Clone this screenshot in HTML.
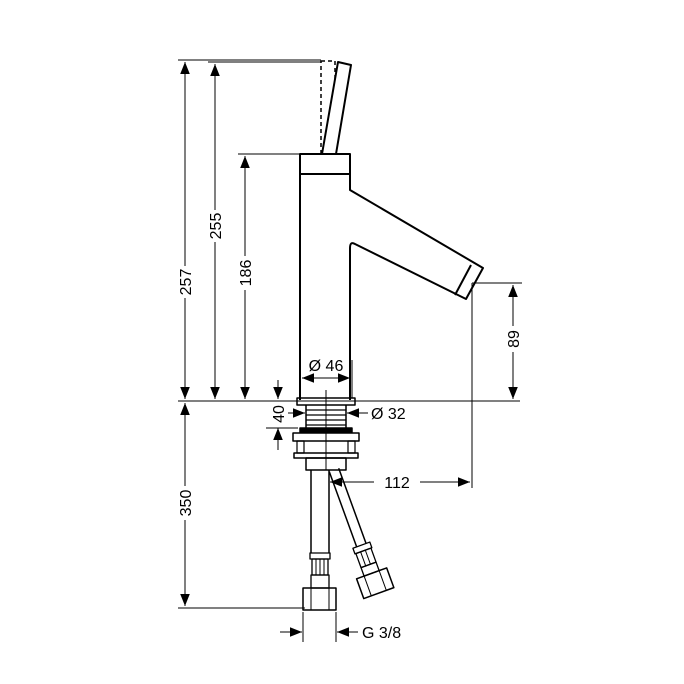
<!DOCTYPE html>
<html><head><style>body{margin:0;background:#fff}svg{display:block}text{font-family:"Liberation Sans",sans-serif;font-size:16px;fill:#000}</style></head><body>
<svg width="684" height="684" viewBox="0 0 684 684" xmlns="http://www.w3.org/2000/svg">
<defs><marker id="a" viewBox="0 0 10 10" refX="10" refY="5" markerWidth="12" markerHeight="12" orient="auto-start-reverse" markerUnits="userSpaceOnUse"><path d="M0,1 L10,5 L0,9 z" fill="#000"/></marker></defs>
<g stroke="#000" stroke-width="1" fill="none">
<line x1="178" y1="60" x2="321" y2="60"/>
<line x1="208" y1="62" x2="321" y2="62"/>
<line x1="238" y1="154" x2="300" y2="154"/>
<line x1="178" y1="401" x2="520" y2="401"/>
<line x1="178" y1="608" x2="305" y2="608"/>
<line x1="472" y1="283" x2="522" y2="283"/>
<line x1="472" y1="283" x2="472" y2="488"/>
<line x1="303" y1="612" x2="303" y2="642"/>
<line x1="336" y1="612" x2="336" y2="642"/>
<line x1="300" y1="360" x2="300" y2="398"/>
<line x1="352" y1="360" x2="352" y2="398"/>
<line x1="326" y1="390" x2="326" y2="470"/>
<line x1="185" y1="62" x2="185" y2="399" marker-start="url(#a)" marker-end="url(#a)"/>
<line x1="215" y1="64" x2="215" y2="399" marker-start="url(#a)" marker-end="url(#a)"/>
<line x1="245" y1="156" x2="245" y2="399" marker-start="url(#a)" marker-end="url(#a)"/>
<line x1="185" y1="403" x2="185" y2="606" marker-start="url(#a)" marker-end="url(#a)"/>
<line x1="513" y1="285" x2="513" y2="399" marker-start="url(#a)" marker-end="url(#a)"/>
<line x1="302" y1="378" x2="350" y2="378" marker-start="url(#a)" marker-end="url(#a)"/>
<line x1="330" y1="482" x2="470" y2="482" marker-start="url(#a)" marker-end="url(#a)"/>
<line x1="278" y1="380" x2="278" y2="399" marker-end="url(#a)"/>
<line x1="278" y1="450" x2="278" y2="428" marker-end="url(#a)"/>
<line x1="266" y1="428" x2="298" y2="428"/>
<line x1="288" y1="413" x2="305" y2="413" marker-end="url(#a)"/>
<line x1="368" y1="413" x2="347" y2="413" marker-end="url(#a)"/>
<line x1="280" y1="632" x2="302" y2="632" marker-end="url(#a)"/>
<line x1="358" y1="632" x2="337" y2="632" marker-end="url(#a)"/>
</g>
<g fill="#fff" stroke="none">
<rect x="177" y="266" width="16" height="32"/><rect x="207" y="210" width="16" height="32"/><rect x="237" y="256" width="16" height="34"/><rect x="177" y="486" width="16" height="34"/><rect x="505" y="326" width="16" height="26"/><rect x="374" y="474" width="46" height="16"/>
</g>
<g>
<text transform="translate(191,282) rotate(-90)" text-anchor="middle">257</text>
<text transform="translate(221,226) rotate(-90)" text-anchor="middle">255</text>
<text transform="translate(251,273) rotate(-90)" text-anchor="middle">186</text>
<text transform="translate(191,503) rotate(-90)" text-anchor="middle">350</text>
<text transform="translate(519,339) rotate(-90)" text-anchor="middle">89</text>
<text transform="translate(284,414) rotate(-90)" text-anchor="middle">40</text>
<text x="397" y="488" text-anchor="middle">112</text>
<text x="326" y="371" text-anchor="middle">Ø 46</text>
<text x="371" y="419">Ø 32</text>
<text x="362" y="638">G 3/8</text>
</g>
<g stroke="#000" stroke-width="2" fill="none" stroke-linejoin="round">
<rect x="321" y="61" width="14" height="92" stroke-dasharray="4,3" stroke-width="1.5"/>
<polygon points="338,62 351,65 336,154 322,154" fill="#fff"/>
<path d="M300,400 V154 H350 V190 L483,268 L466,299 L355,244 Q350,241 350,248 V400"/>
<line x1="300" y1="174" x2="350" y2="174"/>
<line x1="471" y1="265" x2="455" y2="295"/>
<rect x="297" y="398" width="58" height="7" stroke-width="1.5"/>
<path d="M306,405 V428 M346,405 V428" stroke-width="1.5"/>
<g stroke-width="1.2"><line x1="306" y1="410" x2="346" y2="410"/><line x1="306" y1="415" x2="346" y2="415"/><line x1="306" y1="420" x2="346" y2="420"/><line x1="306" y1="425" x2="346" y2="425"/></g>
<rect x="300" y="428" width="52" height="4" stroke-width="1.5" fill="#000"/>
<rect x="293" y="433" width="66" height="8" stroke-width="1.5"/>
<rect x="297" y="441" width="7" height="12" stroke-width="1.2"/>
<rect x="348" y="441" width="7" height="12" stroke-width="1.2"/>
<rect x="294" y="453" width="64" height="5" stroke-width="1.5"/>
<rect x="306" y="458" width="40" height="12" stroke-width="1.5"/>
<path d="M311,470 V553 M329,470 V553" stroke-width="1.5"/>
<rect x="310" y="553" width="20" height="6" stroke-width="1.3"/>
<rect x="312" y="559" width="16" height="16" stroke-width="1.3"/>
<path d="M316,559 V575 M320,559 V575 M324,559 V575" stroke-width="1"/>
<rect x="311" y="575" width="18" height="13" stroke-width="1.3"/>
<rect x="303" y="588" width="33" height="22" stroke-width="1.5"/>
<path d="M311,588 V610 M329,588 V610" stroke-width="1"/>
<g transform="translate(334,470) rotate(-20)">
<path d="M-5,0 V80 M5,0 V80" stroke-width="1.5"/>
<rect x="-9" y="80" width="18" height="6" stroke-width="1.3"/>
<rect x="-8" y="86" width="16" height="15" stroke-width="1.3"/>
<path d="M-3,86 V101 M2,86 V101" stroke-width="1"/>
<rect x="-8" y="101" width="16" height="9" stroke-width="1.3"/>
<rect x="-16" y="110" width="32" height="21" stroke-width="1.5"/>
<path d="M-8,110 V131 M8,110 V131" stroke-width="1"/>
</g>
</g>
</svg>
</body></html>
